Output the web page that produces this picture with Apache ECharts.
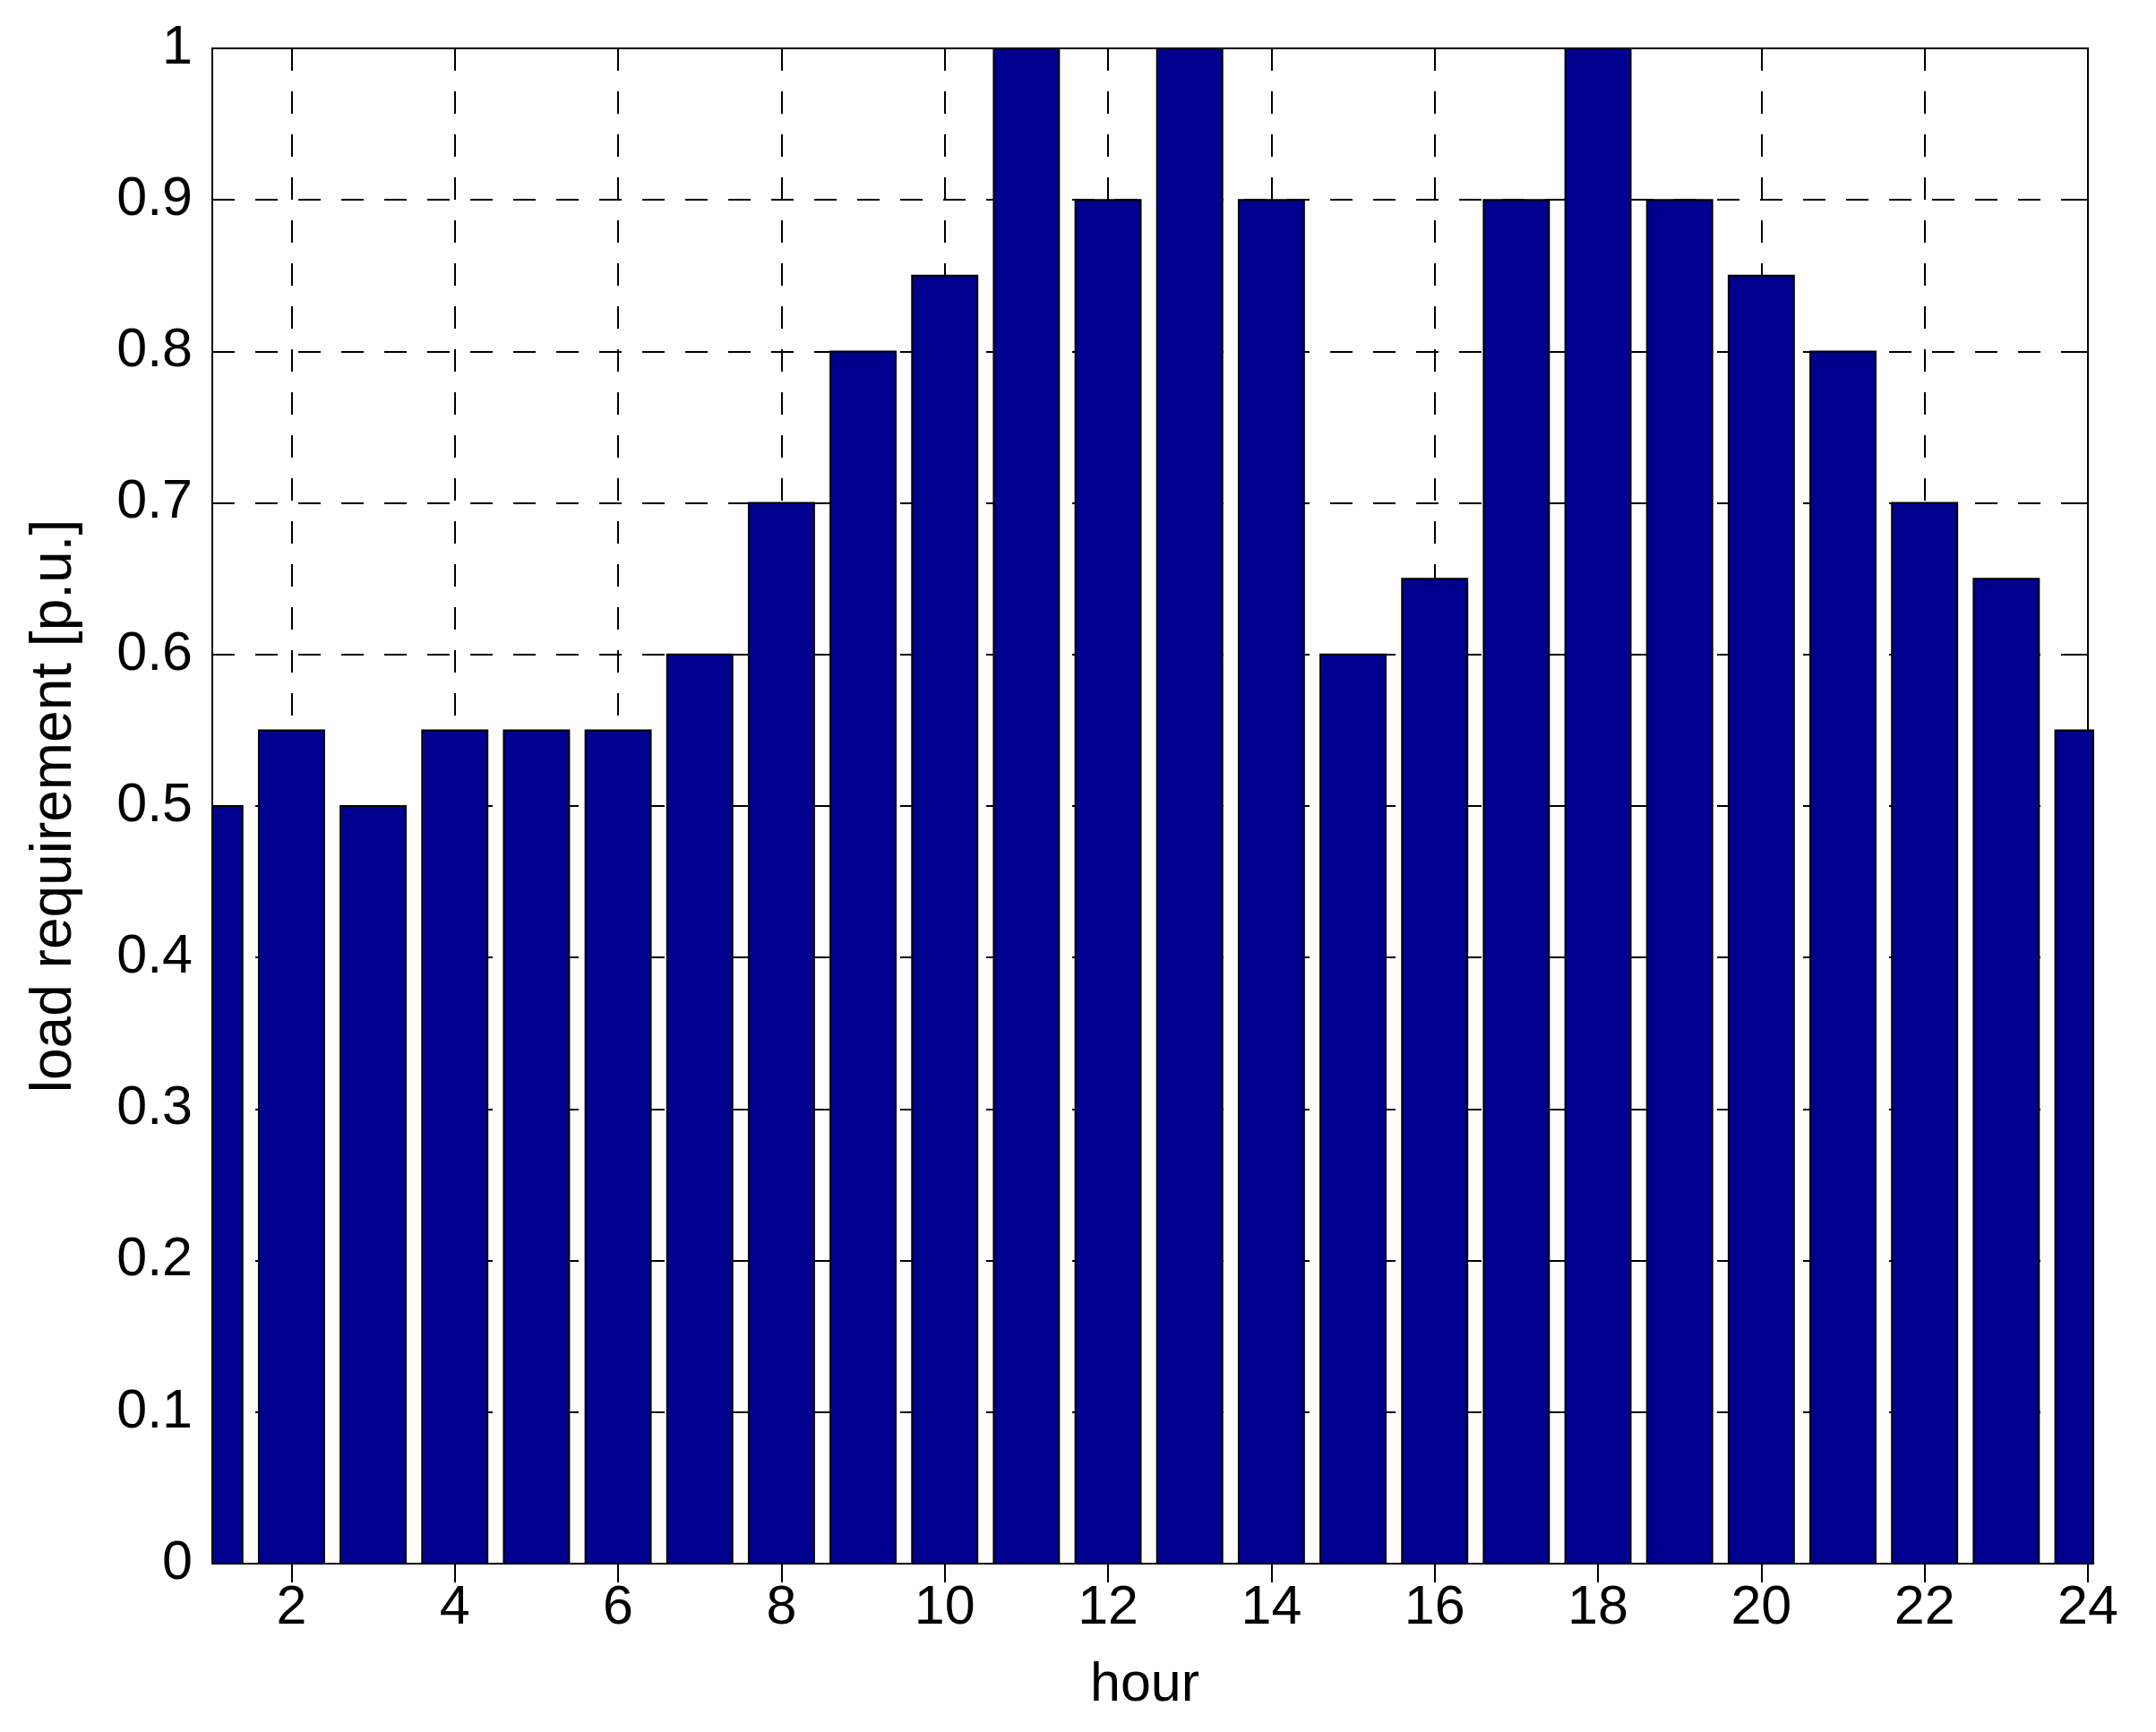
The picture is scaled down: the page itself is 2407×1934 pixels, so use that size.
<!DOCTYPE html>
<html>
<head>
<meta charset="utf-8">
<script src="https://cdn.jsdelivr.net/npm/echarts@6/dist/echarts.min.js"></script>
<style>
html,body{margin:0;padding:0;background:#fff;}
#chart{width:2407px;height:1934px;}
</style>
</head>
<body>
<div id="chart"></div>
<script>
// ---- data ----
const hours = [1,2,3,4,5,6,7,8,9,10,11,12,13,14,15,16,17,18,19,20,21,22,23,24];
const load = [0.5,0.55,0.5,0.55,0.55,0.55,0.6,0.7,0.8,0.85,1.0,0.9,1.0,0.9,0.6,0.65,0.9,1.0,0.9,0.85,0.8,0.7,0.65,0.55];
const xTicks = [2,4,6,8,10,12,14,16,18,20,22,24];
const xName = 'hour';
const yName = 'load requirement [p.u.]';

const FONT = '"Liberation Sans", Arial, sans-serif';
const BAR_W = 0.8;
const chart = echarts.init(document.getElementById('chart'), null, {renderer:'canvas'});

const tickStyle = {show:true, inside:true, length:21, lineStyle:{color:'#000', width:2}};
const gridDash = {show:true, lineStyle:{color:'#000', width:2, type:[25,23]}};

const option = {
  backgroundColor:'#fff',
  animation:false,
  grid:{left:237, top:54, right:76, bottom:188, show:true, borderColor:'#000', borderWidth:2, backgroundColor:'transparent'},
  xAxis:[{
    type:'value', min:1.03, max:24, position:'bottom',
    axisLine:{show:false},
    axisTick:Object.assign({customValues:xTicks}, tickStyle),
    axisLabel:{customValues:xTicks, fontSize:61, fontFamily:FONT, color:'#000', margin:20},
    splitLine:gridDash,
    name:xName, nameLocation:'middle', nameGap:106,
    nameTextStyle:{fontSize:61, fontFamily:FONT, color:'#000', padding:[0,12,0,0]}
  },{
    type:'value', min:1.03, max:24, position:'top',
    axisLine:{show:false},
    axisTick:Object.assign({customValues:xTicks}, tickStyle),
    axisLabel:{show:false},
    splitLine:{show:false}
  }],
  yAxis:[{
    type:'value', min:0, max:1, interval:0.1, position:'left',
    axisLine:{show:false},
    axisTick:tickStyle,
    axisLabel:{fontSize:61, fontFamily:FONT, color:'#000', margin:22},
    splitLine:gridDash,
    name:yName, nameLocation:'middle', nameGap:144, nameRotate:90,
    nameTextStyle:{fontSize:64, fontFamily:FONT, color:'#000'}
  },{
    type:'value', min:0, max:1, interval:0.1, position:'right',
    axisLine:{show:false},
    axisTick:tickStyle,
    axisLabel:{show:false},
    splitLine:{show:false}
  }],
  series:[{
    type:'custom',
    xAxisIndex:0, yAxisIndex:0,
    z:5,
    data: hours.map((h,i)=>[h, load[i]]),
    renderItem:function(params, api){
      const x = api.value(0), v = api.value(1);
      const p0 = api.coord([x - BAR_W/2, v]);
      const p1 = api.coord([x + BAR_W/2, 0]);
      const rect = {x:p0[0], y:p0[1], width:p1[0]-p0[0], height:p1[1]-p0[1]};
      const cs = params.coordSys;
      const clipped = echarts.graphic.clipRectByRect(rect, {x:cs.x, y:cs.y-2, width:cs.width+6, height:cs.height+4});
      if(!clipped) return;
      return {type:'rect', shape:clipped, style:{fill:'#00008F', stroke:'#000', lineWidth:2}};
    }
  }]
};
chart.setOption(option);
</script>
</body>
</html>
